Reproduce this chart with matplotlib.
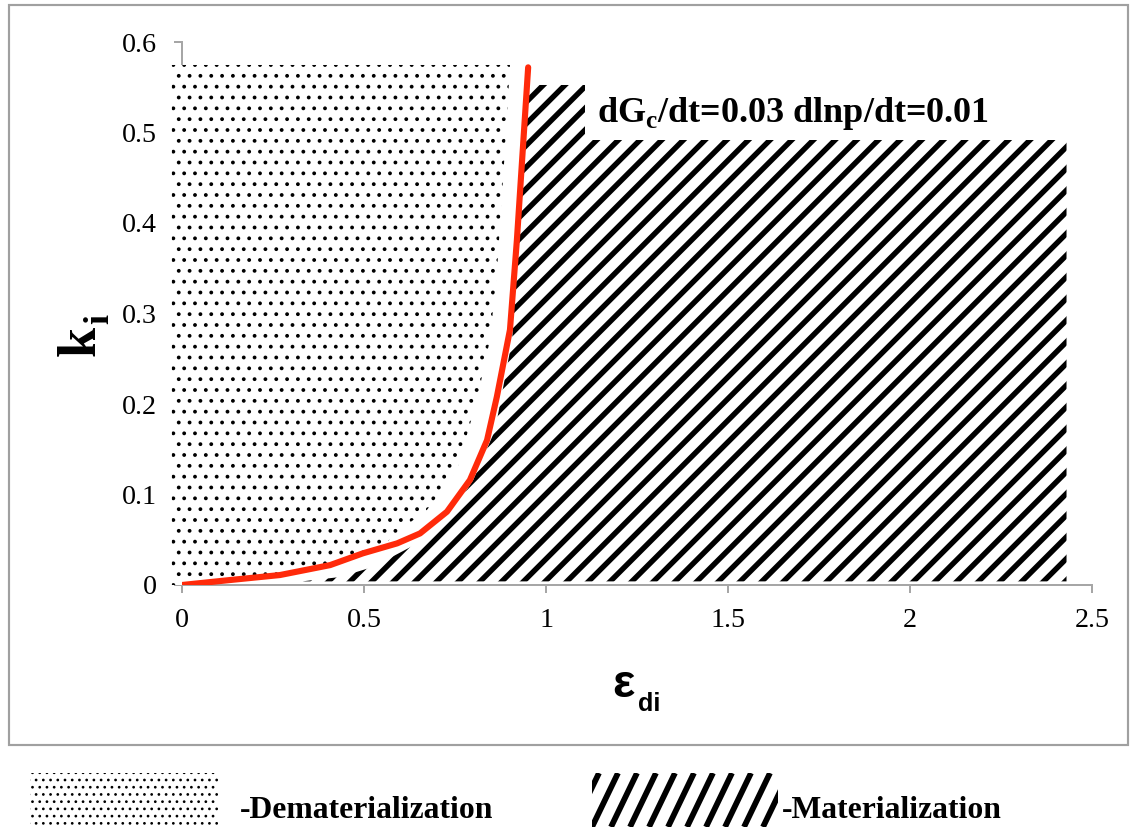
import matplotlib
matplotlib.use("Agg")
import matplotlib.pyplot as plt
from matplotlib.patches import Polygon, Rectangle
import numpy as np

# ---------------- data ----------------
eps_curve = [0, 0.132, 0.269, 0.407, 0.497, 0.591, 0.654, 0.728, 0.791, 0.838, 0.865, 0.901, 0.920, 0.951]
k_curve = [0, 0.0055, 0.011, 0.022, 0.035, 0.046, 0.057, 0.081, 0.116, 0.160, 0.208, 0.282, 0.381, 0.572]

# Dematerialization region (dotted) boundary
demat_eps = [-0.028, 0.901, 0.887, 0.865, 0.846, 0.810, 0.755, 0.673, 0.599, 0.563,
             0.497, 0.407, 0.269, 0.132, 0.0, -0.028]
demat_k = [0.5746, 0.5746, 0.480, 0.345, 0.271, 0.204, 0.127, 0.083, 0.061, 0.0475,
           0.035, 0.022, 0.011, 0.0055, 0.0, 0.0]

# Materialization region (hatched) boundary
mat_eps = [0.330, 0.434, 0.525, 0.654, 0.736, 0.800, 0.860, 0.907, 0.929, 0.942, 2.43, 2.43]
mat_k = [0.004, 0.0088, 0.020, 0.0475, 0.077, 0.116, 0.171, 0.271, 0.425, 0.5525, 0.5525, 0.004]

x_ticks = [0, 0.5, 1, 1.5, 2, 2.5]
x_tick_labels = ["0", "0.5", "1", "1.5", "2", "2.5"]
y_ticks = [0, 0.1, 0.2, 0.3, 0.4, 0.5, 0.6]
y_tick_labels = ["0", "0.1", "0.2", "0.3", "0.4", "0.5", "0.6"]

annotation = r"dG$_\mathregular{c}$/dt=0.03 dlnp/dt=0.01"
legend_labels = ["-Dematerialization", "-Materialization"]

# ---------------- figure ----------------
W, H, DPI = 1135, 827, 130
fig = plt.figure(figsize=(W / DPI, H / DPI), dpi=DPI)
fig.patch.set_facecolor("white")

ax = fig.add_axes([182 / W, 1 - 585 / H, (1092 - 182) / W, (585 - 42) / H])
ax.set_xlim(0, 2.5)
ax.set_ylim(0, 0.6)
axis_gray = "#A6A6A6"
for s in ["top", "right"]:
    ax.spines[s].set_visible(False)
for s in ["left", "bottom"]:
    ax.spines[s].set_color(axis_gray)
    ax.spines[s].set_linewidth(1.1)
ax.set_xticks(x_ticks)
ax.set_xticklabels(x_tick_labels)
ax.set_yticks(y_ticks)
ax.set_yticklabels(y_tick_labels)
ax.tick_params(axis="both", direction="out", length=4.4, width=1.1, color=axis_gray,
               labelsize=15.5, labelcolor="black")
ax.tick_params(axis="x", pad=8.5)
ax.tick_params(axis="y", pad=9.5)
for lab in ax.get_xticklabels() + ax.get_yticklabels():
    lab.set_family("Liberation Serif")


def hatched_patch(poly, hatch, hlw, **kw):
    with plt.rc_context({"hatch.linewidth": hlw}):
        p = Polygon(poly, closed=True, facecolor="white", edgecolor="black",
                    linewidth=0, hatch=hatch, **kw)
    if hasattr(p, "set_hatch_linewidth"):
        p.set_hatch_linewidth(hlw)
    return p


mat_poly = hatched_patch(np.column_stack([mat_eps, mat_k]), "//", 3.0, zorder=2)
ax.add_patch(mat_poly)
demat_poly = hatched_patch(np.column_stack([demat_eps, demat_k]), "..", 0.9, zorder=3)
demat_poly.set_clip_on(False)
ax.add_patch(demat_poly)

ax.plot(eps_curve, k_curve, color="#FF2A0A", linewidth=3.4, zorder=4,
        solid_capstyle="round", solid_joinstyle="round")

# ---------------- overlay in pixel coordinates ----------------
ov = fig.add_axes([0, 0, 1, 1], zorder=5)
ov.set_xlim(0, W)
ov.set_ylim(H, 0)
ov.axis("off")
ov.patch.set_visible(False)

# chart border
ov.add_patch(Rectangle((9, 5), 1128 - 9, 745 - 5, fill=False, edgecolor="#A0A0A0", linewidth=1.2))

# annotation with white box
ov.add_patch(Rectangle((585, 80), 1075 - 585, 140 - 80, facecolor="white", edgecolor="none"))
ov.text(597, 122, annotation, fontsize=20, fontweight="bold", family="Liberation Serif",
        ha="left", va="baseline")

# axis titles
ov.text(95, 340.5, "k", fontsize=30, fontweight="bold", family="Liberation Serif",
        rotation=90, rotation_mode="anchor", ha="center", va="baseline")
ov.text(108, 319, "i", fontsize=20, fontweight="bold", family="Liberation Serif",
        rotation=90, rotation_mode="anchor", ha="center", va="baseline")
ov.text(623, 697, "ε", fontsize=26, fontweight="bold", family="Liberation Sans",
        ha="center", va="baseline")
ov.text(649, 711, "di", fontsize=14, fontweight="bold", family="Liberation Sans",
        ha="center", va="baseline")

# legend
with plt.rc_context({"hatch.linewidth": 0.7}):
    sw1 = Rectangle((30, 773), 188, 54, facecolor="white", edgecolor="black",
                    linewidth=0, hatch="...")
if hasattr(sw1, "set_hatch_linewidth"):
    sw1.set_hatch_linewidth(0.7)
ov.add_patch(sw1)
ov.text(240, 818, legend_labels[0], fontsize=17.5, fontweight="bold",
        family="Liberation Serif", ha="left", va="baseline")

sw2 = Rectangle((592, 773), 186, 54, facecolor="white", edgecolor="none")
ov.add_patch(sw2)
for i in range(-2, 12):
    x0 = 592 + i * 19
    ln, = ov.plot([x0, x0 + 26], [827, 773], color="black", linewidth=3.2,
                  solid_capstyle="butt")
    ln.set_clip_path(sw2)
ov.text(782, 818, legend_labels[1], fontsize=17.5, fontweight="bold",
        family="Liberation Serif", ha="left", va="baseline")

fig.savefig("out.png", dpi=DPI, facecolor="white")
